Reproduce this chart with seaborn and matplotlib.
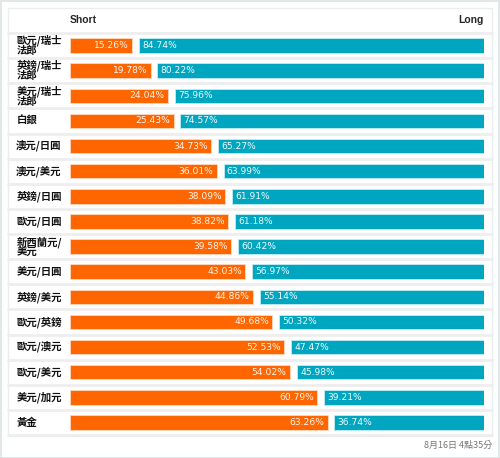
import numpy as np
import seaborn as sns
from matplotlib import pyplot as plt
from matplotlib.patches import Rectangle

# sentiment data (short / long %)
pairs = ['歐元/瑞士\n法郎', '英鎊/瑞士\n法郎', '美元/瑞士\n法郎', '白銀', '澳元/日圓', '澳元/美元',
         '英鎊/日圓', '歐元/日圓', '新西蘭元/\n美元', '美元/日圓', '英鎊/美元', '歐元/英鎊',
         '歐元/澳元', '歐元/美元', '美元/加元', '黃金']
short_pct = [15.26, 19.78, 24.04, 25.43, 34.73, 36.01, 38.09, 38.82, 39.58, 43.03,
             44.86, 49.68, 52.53, 54.02, 60.79, 63.26]
long_pct = [84.74, 80.22, 75.96, 74.57, 65.27, 63.99, 61.91, 61.18, 60.42, 56.97,
            55.14, 50.32, 47.47, 45.98, 39.21, 36.74]
timestamp = '8月16日 4點35分'

sns.set_style('white')
plt.rcParams['font.family'] = ['Noto Sans CJK TC', 'DejaVu Sans']

ORANGE = '#ff6600'
TEAL = '#00a6bf'
GAP = 1.7  # gap between short and long bars, in percent units

W, H = 500, 458
fig = plt.figure(figsize=(W / 100, H / 100), dpi=100)
ax_left, ax_right = 70, 484
row_top, row_bot = 33, 435
ax = fig.add_axes([ax_left / W, 1 - row_bot / H, (ax_right - ax_left) / W, (row_bot - row_top) / H])

# outer frame + card
fig.add_artist(Rectangle((0.5 / W, 0.5 / H), 1 - 1.5 / W, 1 - 1.5 / H, transform=fig.transFigure,
                         fill=False, edgecolor='#dde3e3', lw=1.2))
fig.add_artist(Rectangle((8 / W, 1 - 436 / H), 484 / W, 428 / H, transform=fig.transFigure,
                         fill=False, edgecolor='#eaeeee', lw=1.0))

y = np.arange(len(pairs))
sns.barplot(x=short_pct, y=y, orient='h', color=ORANGE, width=0.58, edgecolor='#ffd9c0',
            linewidth=0.6, saturation=1, ax=ax, native_scale=True)
ax.barh(y, long_pct, left=np.array(short_pct) + GAP, height=0.58, color=TEAL,
        edgecolor='#c0eef3', linewidth=0.6)

ax.set_xlim(0, 100 + GAP)
ax.set_ylim(len(pairs) - 0.5, -0.5)
ax.axis('off')

# row separators across the card
x0 = (8 - ax_left) / (ax_right - ax_left)
x1 = (492 - ax_left) / (ax_right - ax_left)
for i in range(len(pairs) + 1):
    ax.axhline(i - 0.5, xmin=x0, xmax=x1, color='#eeeeee', lw=2, clip_on=False, zorder=0)

latin = ['DejaVu Sans', 'Noto Sans CJK TC']
for i, (s, l, name) in enumerate(zip(short_pct, long_pct, pairs)):
    ax.text(s - 0.8, i, f'{s:.2f}%', color='#fff6f0', ha='right', va='center', fontsize=6.6,
            family=latin)
    ax.text(s + GAP + 0.8, i, f'{l:.2f}%', color='#f0fbfd', ha='left', va='center', fontsize=6.6,
            family=latin)
    ax.text(-13.2, i, name, ha='left', va='center', fontsize=7.5, fontweight='bold',
            color='#111111', linespacing=0.95)

fig.text(ax_left / W, 1 - 20 / H, 'Short', ha='left', va='center', fontsize=7.5, fontweight='bold',
         family=['Liberation Sans', 'DejaVu Sans'])
fig.text(ax_right / W, 1 - 20 / H, 'Long', ha='right', va='center', fontsize=7.5, fontweight='bold',
         family=['Liberation Sans', 'DejaVu Sans'])
fig.text(492 / W, 1 - 445 / H, timestamp, ha='right', va='center', fontsize=6.5, color='#777777')

plt.savefig('out.png', dpi=100)
